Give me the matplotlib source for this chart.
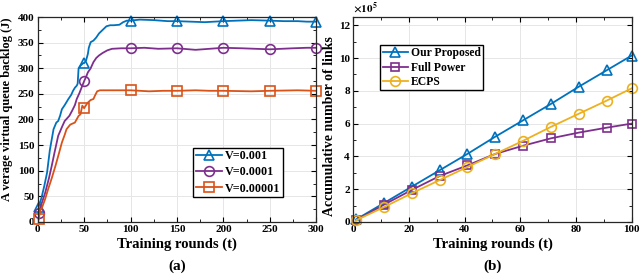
import matplotlib.pyplot as plt
from matplotlib.ticker import MultipleLocator

plt.rcParams['font.family'] = ['Liberation Serif', 'DejaVu Serif']
plt.rcParams['font.weight'] = 'bold'
plt.rcParams['mathtext.fontset'] = 'stix'

# (a) average virtual queue backlog vs training rounds
rounds_a1 = [1, 4, 7, 10, 13, 17, 20, 22, 24, 26, 29, 33, 36, 38, 40, 42, 43, 44, 46, 49, 50,
             52, 54, 55, 57, 60, 63, 66, 70, 74, 78, 82, 88, 92, 96, 100,
             110, 125, 140, 150, 165, 180, 200, 215, 230, 250, 265, 280, 290, 300]
v_001 = [30, 47, 70, 96, 140, 181, 194, 197, 207, 220, 228, 240, 248, 256, 262, 266, 270, 300, 305, 310, 310,
         315, 328, 340, 351, 354, 360, 368, 375, 382, 384, 384, 385, 390, 393, 393,
         395, 394, 392, 392, 391, 390, 392, 393, 394, 393, 392, 392, 391, 391]
rounds_a2 = [1, 4, 8, 12, 15, 18, 22, 26, 29, 31, 34, 37, 40, 42, 45, 48, 50, 52, 54, 57,
             60, 63, 66, 70, 75, 80, 90, 100,
             115, 130, 150, 170, 185, 200, 220, 235, 250, 275, 290, 300]
v_0001 = [18, 35, 57, 85, 109, 135, 168, 185, 197, 201, 207, 217, 228, 240, 252, 266, 275, 283, 292, 300,
          312, 320, 325, 330, 335, 338, 339, 339,
          340, 338, 339, 336, 338, 340, 339, 338, 337, 339, 340, 340]
rounds_a3 = [1, 3, 4, 8, 11, 15, 19, 23, 26, 29, 31, 35, 40, 44, 46, 48, 50, 52, 54, 57,
             60, 62, 64, 67, 70, 100,
             120, 135, 150, 170, 185, 200, 230, 250, 280, 300]
v_00001 = [5, 25, 25, 45, 63, 85, 109, 135, 155, 170, 181, 190, 194, 207, 210, 227, 222, 228, 233, 238,
           240, 248, 255, 257, 257, 257,
           255, 256, 256, 257, 256, 256, 255, 256, 257, 256]
marker_rounds_a = [1, 50, 100, 150, 200, 250, 300]

# (b) accumulative number of links (x1e5)
rounds_b = [1, 11, 21, 31, 41, 51, 61, 71, 81, 91, 100]
proposed = [0.15, 1.15, 2.15, 3.15, 4.15, 5.2, 6.2, 7.2, 8.25, 9.25, 10.15]
full_power = [0.1, 1.05, 1.95, 2.8, 3.45, 4.15, 4.65, 5.1, 5.45, 5.75, 6.0]
ecps = [0.1, 0.9, 1.75, 2.55, 3.35, 4.15, 4.95, 5.8, 6.6, 7.4, 8.15]

blue = '#0072BD'
orange = '#D95319'
purple = '#7E2F8E'
yellow = '#EDB120'

fig = plt.figure(figsize=(6.4, 2.75), dpi=100)
ax1 = fig.add_axes([0.059, 0.193, 0.435, 0.745])
ax2 = fig.add_axes([0.552, 0.193, 0.435, 0.745])


def marks(rounds):
    return [rounds.index(t) for t in marker_rounds_a]


ax1.plot(rounds_a1, v_001, color=blue, lw=1.3, marker='^', ms=7, mfc='none', mew=1.2,
         markevery=marks(rounds_a1), label='V=0.001', clip_on=False)
ax1.plot(rounds_a2, v_0001, color=purple, lw=1.3, marker='o', ms=7, mfc='none', mew=1.2,
         markevery=marks(rounds_a2), label='V=0.0001', clip_on=False)
ax1.plot(rounds_a3, v_00001, color=orange, lw=1.3, marker='s', ms=6.5, mfc='none', mew=1.2,
         markevery=marks(rounds_a3), label='V=0.00001', clip_on=False)
ax1.set_xlim(0, 300)
ax1.set_ylim(0, 400)
ax1.xaxis.set_major_locator(MultipleLocator(50))
ax1.xaxis.set_minor_locator(MultipleLocator(25))
ax1.yaxis.set_major_locator(MultipleLocator(50))
ax1.yaxis.set_minor_locator(MultipleLocator(25))
ax1.set_xlabel('Training rounds (t)', fontsize=10.5, fontweight='bold', labelpad=2)
ax1.set_ylabel('A verage virtual queue backlog (J)', fontsize=9, fontweight='bold')
ax1.yaxis.set_label_coords(-0.088, 0.55)
ax1.text(0.5, -0.215, '(a)', transform=ax1.transAxes, ha='center', va='center',
         fontsize=11, fontweight='bold')
ax1.legend(loc='lower right', bbox_to_anchor=(0.881, 0.122), fontsize=8.7, frameon=True,
           fancybox=False, edgecolor='black', framealpha=1, handlelength=2.2,
           borderpad=0.2, labelspacing=0.35, handletextpad=0.25, borderaxespad=0)

ax2.plot(rounds_b, proposed, color=blue, lw=1.3, marker='^', ms=7, mfc='none', mew=1.2,
         label='Our Proposed', clip_on=False)
ax2.plot(rounds_b, full_power, color=purple, lw=1.3, marker='s', ms=6, mfc='none', mew=1.2,
         label='Full Power', clip_on=False)
ax2.plot(rounds_b, ecps, color=yellow, lw=1.3, marker='o', ms=7, mfc='none', mew=1.2,
         label='ECPS', clip_on=False)
ax2.set_xlim(0, 100)
ax2.set_ylim(0, 12.5)
ax2.xaxis.set_major_locator(MultipleLocator(20))
ax2.xaxis.set_minor_locator(MultipleLocator(10))
ax2.yaxis.set_major_locator(MultipleLocator(2))
ax2.yaxis.set_minor_locator(MultipleLocator(1))
ax2.set_xlabel('Training rounds (t)', fontsize=10.5, fontweight='bold', labelpad=2)
ax2.set_ylabel('Accumulative number of links', fontsize=10, fontweight='bold')
ax2.yaxis.set_label_coords(-0.061, 0.47)
ax2.text(0.0, 1.01, r'$\times 10^5$', transform=ax2.transAxes, ha='left', va='bottom',
         fontsize=8)
ax2.text(0.5, -0.215, '(b)', transform=ax2.transAxes, ha='center', va='center',
         fontsize=11, fontweight='bold')
ax2.legend(loc='upper left', bbox_to_anchor=(0.097, 0.863), fontsize=8.4, frameon=True,
           fancybox=False, edgecolor='black', framealpha=1, handlelength=2.2,
           borderpad=0.2, labelspacing=0.2, handletextpad=0.25, borderaxespad=0)

for ax in (ax1, ax2):
    ax.grid(True, color='#e6e6e6', lw=0.7)
    ax.set_axisbelow(True)
    ax.tick_params(which='both', direction='in', top=True, right=True, labelsize=8)
    ax.tick_params(which='major', length=3.5, pad=2.5)
    ax.tick_params(which='minor', length=2)
    for s in ax.spines.values():
        s.set_color('#262626')
        s.set_linewidth(0.9)
    for lab in ax.get_xticklabels() + ax.get_yticklabels():
        lab.set_fontweight('bold')

fig.savefig('out.png', dpi=100)
